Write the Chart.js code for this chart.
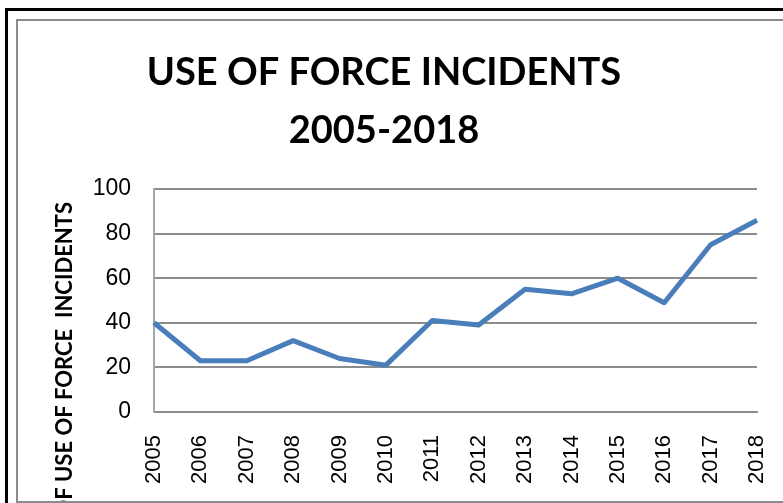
<!DOCTYPE html>
<html>
<head>
<meta charset="utf-8">
<script src="https://cdn.jsdelivr.net/npm/chart.js@4.4.1/dist/chart.umd.min.js"></script>
<style>
    body { margin: 0; overflow: hidden; background: #fff; }
    #wrap { position: absolute; left: 0; top: 0; width: 783px; height: 503px; }
    #outerFrame {
        position: absolute; left: 5px; top: 8px; width: 2000px; height: 2000px;
        border-left: 3px solid #000; border-top: 3px solid #000; pointer-events: none;
    }
    #innerFrame {
        position: absolute; left: 16px; top: 19px; width: 2000px; height: 480px;
        border: 2px solid #8c8c8c; border-right: none; pointer-events: none;
    }
</style>
</head>
<body>
<div id="wrap">
    <canvas id="forceChart" width="783" height="503"></canvas>
    <div id="outerFrame"></div>
    <div id="innerFrame"></div>
</div>
<script>
// Chart data
const years = ['2005', '2006', '2007', '2008', '2009', '2010', '2011',
               '2012', '2013', '2014', '2015', '2016', '2017', '2018'];
const incidents = [40, 23, 23, 32, 24, 21, 41, 39, 55, 53, 60, 49, 75, 86];
const yTicks = [0, 20, 40, 60, 80, 100];

const titleLines = ['USE OF FORCE INCIDENTS', '2005-2018'];
const yTitle = 'NUMBER OF USE OF FORCE  INCIDENTS';

// Draw the chart title and the vertical axis title
const titlesPlugin = {
    id: 'titles',
    afterDraw(chart) {
        const ctx = chart.ctx;
        ctx.save();
        ctx.fillStyle = '#000';
        ctx.font = 'bold 38px Lato';
        ctx.textAlign = 'center';
        ctx.textBaseline = 'alphabetic';
        ctx.fillText(titleLines[0], 384, 85);
        ctx.fillText(titleLines[1], 384, 143);

        ctx.font = 'bold 22px Lato';
        ctx.translate(72, 202);
        ctx.rotate(-Math.PI / 2);
        ctx.textAlign = 'right';
        ctx.fillText(yTitle, 0, 0);
        ctx.restore();
    }
};

const ctx = document.getElementById('forceChart').getContext('2d');

new Chart(ctx, {
    type: 'line',
    data: {
        labels: years,
        datasets: [{
            label: 'Use of force incidents',
            data: incidents,
            borderColor: '#4a7ebb',
            borderWidth: 5,
            borderJoinStyle: 'round',
            pointRadius: 0,
            tension: 0,
            fill: false
        }]
    },
    options: {
        responsive: false,
        animation: false,
        layout: {
            padding: { top: 189, right: 26, bottom: 0, left: 0 }
        },
        plugins: {
            legend: { display: false },
            title: { display: false },
            tooltip: { enabled: false }
        },
        scales: {
            x: {
                type: 'category',
                offset: false,
                grid: { display: false, drawTicks: false },
                border: { display: true, color: '#8c8c8c', width: 2 },
                ticks: {
                    autoSkip: false,
                    minRotation: 90,
                    maxRotation: 90,
                    padding: 23,
                    color: '#000',
                    font: { family: 'Liberation Sans', size: 22 }
                },
                afterFit: function (scale) {
                    scale.height = 91;
                    // keep the rotated end labels from shrinking the plot
                    scale.paddingLeft = 0;
                    scale.paddingRight = 0;
                }
            },
            y: {
                min: 0,
                max: 100,
                afterBuildTicks: function (scale) {
                    scale.ticks = yTicks.map(v => ({ value: v }));
                },
                grid: { color: '#8c8c8c', lineWidth: 2, drawTicks: false },
                border: { display: true, color: '#a6a6a6', width: 2 },
                ticks: {
                    padding: 23,
                    color: '#000',
                    font: { family: 'Liberation Sans', size: 23 }
                },
                afterFit: function (scale) {
                    scale.width = 154;
                }
            }
        }
    },
    plugins: [titlesPlugin]
});
</script>
</body>
</html>
